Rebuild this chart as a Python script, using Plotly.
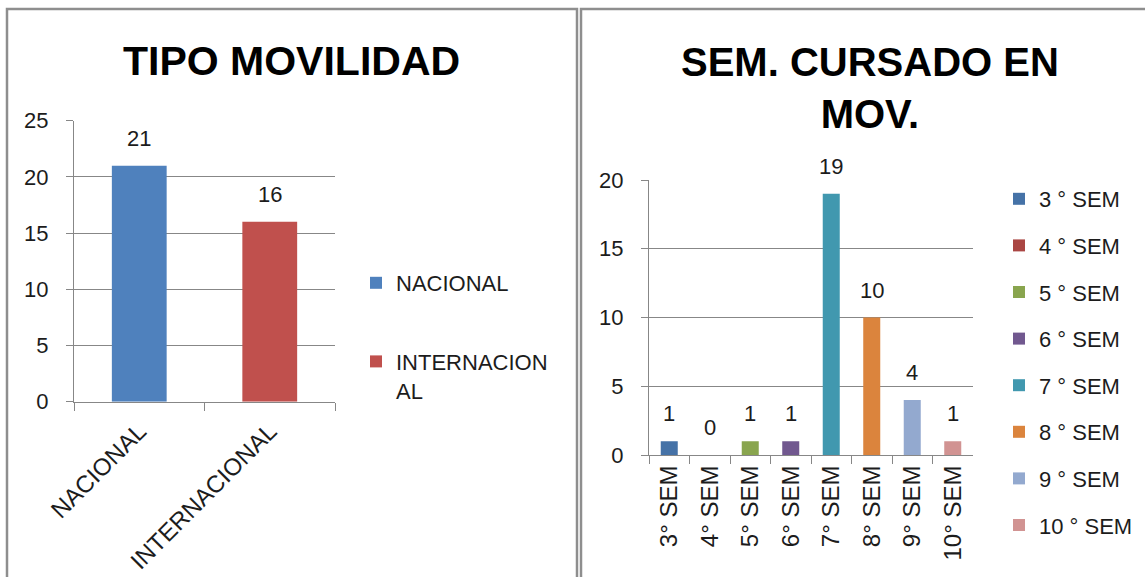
import plotly.graph_objects as go

# ---------------- data ----------------
tipo_categories = ["NACIONAL", "INTERNACIONAL"]
tipo_legend_labels = ["NACIONAL", "INTERNACION<br>AL"]
tipo_values = [21, 16]

sem_categories = ["3° SEM", "4° SEM", "5° SEM", "6° SEM",
                  "7° SEM", "8° SEM", "9° SEM", "10° SEM"]
sem_legend_labels = ["3 ° SEM", "4 ° SEM", "5 ° SEM", "6 ° SEM",
                     "7 ° SEM", "8 ° SEM", "9 ° SEM", "10 ° SEM"]
sem_values = [1, 0, 1, 1, 19, 10, 4, 1]

title_left = "TIPO MOVILIDAD"
title_right = "SEM. CURSADO EN<br>MOV."

# ---------------- style ----------------
tipo_colors = ["#4F81BD", "#C0504D"]
sem_colors = ["#4572A7", "#AA4643", "#89A54E", "#71588F",
              "#4198AF", "#DB843D", "#93A9CF", "#D19392"]

FONT = "Liberation Sans, Arial, sans-serif"
TEXT = "#1c1c1c"
GRID = "#878787"
BORDER = "#8e8e8e"
W, H = 1145, 577

fig = go.Figure()

for cat, lab, val, col in zip(tipo_categories, tipo_legend_labels, tipo_values, tipo_colors):
    fig.add_trace(go.Bar(
        x=[cat], y=[val], name=lab,
        marker=dict(color=col, line=dict(width=0)),
        xaxis="x", yaxis="y", legend="legend", legendgroup="t_" + cat,
    ))

for cat, lab, val, col in zip(sem_categories, sem_legend_labels, sem_values, sem_colors):
    fig.add_trace(go.Bar(
        x=[cat], y=[val], name=lab,
        marker=dict(color=col, line=dict(width=0)),
        xaxis="x2", yaxis="y2", legend="legend2", legendgroup="s_" + cat,
    ))

annotations = []
for cat, val in zip(tipo_categories, tipo_values):
    annotations.append(dict(x=cat, y=val, xref="x", yref="y", text=str(val),
                            showarrow=False, yanchor="bottom", yshift=13,
                            font=dict(size=22, color=TEXT, family=FONT)))
for cat, val in zip(sem_categories, sem_values):
    annotations.append(dict(x=cat, y=val, xref="x2", yref="y2", text=str(val),
                            showarrow=False, yanchor="bottom", yshift=13,
                            font=dict(size=22, color=TEXT, family=FONT)))

annotations.append(dict(x=291 / W, y=1 - 60.5 / H, xref="paper", yref="paper",
                        text="<b>" + title_left + "</b>", showarrow=False,
                        xanchor="center", yanchor="middle",
                        font=dict(size=41, color="#000000", family=FONT)))
annotations.append(dict(x=870 / W, y=1 - 88 / H, xref="paper", yref="paper",
                        text="<b>" + title_right + "</b>", showarrow=False,
                        xanchor="center", yanchor="middle",
                        font=dict(size=40, color="#000000", family=FONT)))

shapes = [
    dict(type="rect", xref="paper", yref="paper",
         x0=7 / W, x1=577 / W, y0=-0.2, y1=1 - 9 / H,
         line=dict(color=BORDER, width=2.5), fillcolor="rgba(0,0,0,0)", layer="below"),
    dict(type="rect", xref="paper", yref="paper",
         x0=581 / W, x1=1.2, y0=-0.2, y1=1 - 9 / H,
         line=dict(color=BORDER, width=2.5), fillcolor="rgba(0,0,0,0)", layer="below"),
]

common_x = dict(type="category", ticks="outside", tickson="boundaries", ticklen=8,
                tickcolor=GRID, tickwidth=1, showline=True, linecolor=GRID, linewidth=1,
                showgrid=False, fixedrange=True)
common_y = dict(ticks="outside", ticklen=7, tickcolor=GRID, tickwidth=1, showline=True,
                linecolor=GRID, linewidth=1, showgrid=True, gridcolor=GRID, gridwidth=1,
                zeroline=False, dtick=5, tickfont=dict(size=22, color=TEXT, family=FONT),
                ticklabelstandoff=13, fixedrange=True)

fig.update_layout(
    width=W, height=H,
    margin=dict(l=0, r=0, t=0, b=0, autoexpand=False),
    paper_bgcolor="white", plot_bgcolor="rgba(0,0,0,0)",
    font=dict(family=FONT, color=TEXT),
    barmode="overlay", bargap=0.58,
    showlegend=True,
    xaxis=dict(domain=[74 / W, 335 / W], anchor="y", tickangle=-45,
               tickfont=dict(size=24, color=TEXT, family=FONT), ticklabelstandoff=5,
               **common_x),
    yaxis=dict(domain=[1 - 401.7 / H, 1 - 120.7 / H], anchor="x", range=[0, 25], **common_y),
    xaxis2=dict(domain=[649 / W, 973 / W], anchor="y2", tickangle=-90,
                tickfont=dict(size=24, color=TEXT, family=FONT), **common_x),
    yaxis2=dict(domain=[1 - 455 / H, 1 - 180 / H], anchor="x2", range=[0, 20], **common_y),
    legend=dict(x=356 / W, y=1 - 262 / H, xanchor="left", yanchor="top",
                font=dict(size=22, color=TEXT, family=FONT), tracegroupgap=47,
                valign="top", bgcolor="rgba(0,0,0,0)", traceorder="grouped"),
    legend2=dict(x=999 / W, y=1 - 178 / H, xanchor="left", yanchor="top",
                 font=dict(size=22, color=TEXT, family=FONT), tracegroupgap=15,
                 valign="top", bgcolor="rgba(0,0,0,0)", traceorder="grouped"),
    annotations=annotations,
    shapes=shapes,
)

fig.write_html("out.html", post_script="document.body.style.margin='0';",
               config={"displayModeBar": False})
